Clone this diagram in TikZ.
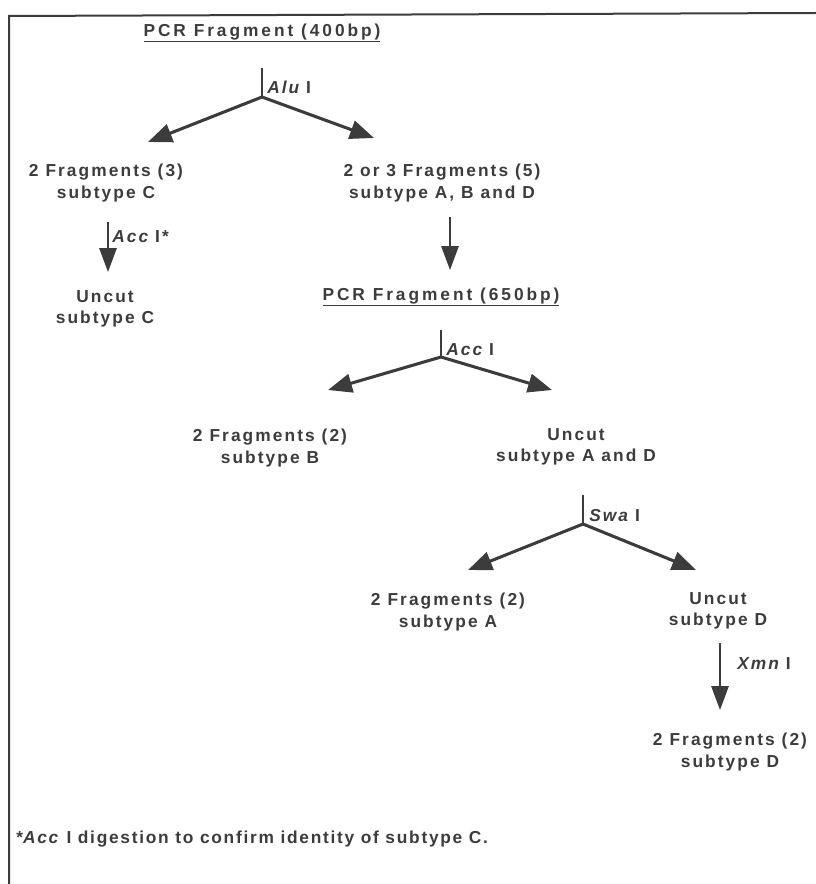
\documentclass[tikz,border=0pt]{standalone}
\usepackage{fontspec}
\setmainfont{Liberation Sans}[LetterSpace=12]
\newfontfamily\headfont{Liberation Sans}[LetterSpace=17]
\usetikzlibrary{arrows.meta}
\definecolor{ink}{RGB}{60,60,60}
\tikzset{
  txt/.style={text=ink, font=\bfseries\fontsize{13}{16}\selectfont, align=center, inner sep=0pt},
  enz/.style={text=ink, font=\bfseries\fontsize{13}{16}\selectfont, anchor=west, inner sep=0pt},
  head/.style={text=ink, font=\headfont\bfseries\fontsize{13}{16}\selectfont, inner sep=0pt},
  stem/.style={draw=ink, line width=1.2pt},
  split/.style={draw=ink, line width=2.3pt, -{Triangle[length=18pt,width=14pt]}},
  drop/.style={draw=ink, line width=1.5pt, -{Triangle[length=18pt,width=13pt]}}
}
\begin{document}
\begin{tikzpicture}[x=0.75pt,y=0.75pt,yscale=-1,xscale=1]
\useasboundingbox (0,0) rectangle (816,884);

% frame
\draw [ink, line width=1.5pt] (9,884) -- (9,16) -- (816,13) ;

% first digest
\node [head] (pcr400) at (262,33) {\underline{PCR Fragment (400bp)}};
\coordinate (aluT) at (262,68);
\coordinate (aluJ) at (262,97);
\draw [stem] (aluT) -- (aluJ) ;
\node [enz] (alu) at (267,87) {\itshape Alu\normalfont\bfseries\ I};
\coordinate (aluL) at (148,142);
\coordinate (aluR) at (374,138);
\draw [split] (aluJ) -- (aluL) ;
\draw [split] (aluJ) -- (aluR) ;

\node [txt] (fragC) at (106,183) {2 Fragments (3)\\subtype C};
\node [txt] (fragABD) at (442,183) {2 or 3 Fragments (5)\\subtype A, B and D};

% confirm C
\coordinate (accT) at (108,222);
\coordinate (accB) at (108,272);
\draw [drop] (accT) -- (accB) ;
\node [enz] (accC) at (112,237) {\itshape Acc\normalfont\bfseries\ I*};
\node [txt] (uncutC) at (105,309) {Uncut\\subtype C};

% second PCR
\coordinate (pcrT) at (450,217);
\coordinate (pcrB) at (450,270);
\draw [drop] (pcrT) -- (pcrB) ;
\node [head] (pcr650) at (441,297) {\underline{PCR Fragment (650bp)}};

\coordinate (accST) at (441,330);
\coordinate (accJ) at (441,357);
\draw [stem] (accST) -- (accJ) ;
\node [enz] (acc) at (446,350) {\itshape Acc\normalfont\bfseries\ I};
\coordinate (accL) at (328,390);
\coordinate (accR) at (552,390);
\draw [split] (accJ) -- (accL) ;
\draw [split] (accJ) -- (accR) ;

\node [txt] (fragB) at (270,448) {2 Fragments (2)\\subtype B};
\node [txt] (uncutAD) at (576,447) {Uncut\\subtype A and D};

% Swa
\coordinate (swaT) at (583,495);
\coordinate (swaJ) at (583,524);
\draw [stem] (swaT) -- (swaJ) ;
\node [enz] (swa) at (589,516) {\itshape Swa\normalfont\bfseries\ I};
\coordinate (swaL) at (468,570);
\coordinate (swaR) at (696,570);
\draw [split] (swaJ) -- (swaL) ;
\draw [split] (swaJ) -- (swaR) ;

\node [txt] (fragA) at (448,612) {2 Fragments (2)\\subtype A};
\node [txt] (uncutD) at (718,611) {Uncut\\subtype D};

% Xmn
\coordinate (xmnT) at (720,643);
\coordinate (xmnB) at (720,710);
\draw [drop] (xmnT) -- (xmnB) ;
\node [enz] (xmn) at (737,664) {\itshape Xmn\normalfont\bfseries\ I};
\node [txt] (fragD) at (730,752) {2 Fragments (2)\\subtype D};

% footnote
\node [enz, font=\bfseries\fontsize{13}{16}\selectfont\addfontfeature{LetterSpace=10}] (note) at (16,839) {*\textit{Acc} I digestion to confirm identity of subtype C.};

\end{tikzpicture}
\end{document}
